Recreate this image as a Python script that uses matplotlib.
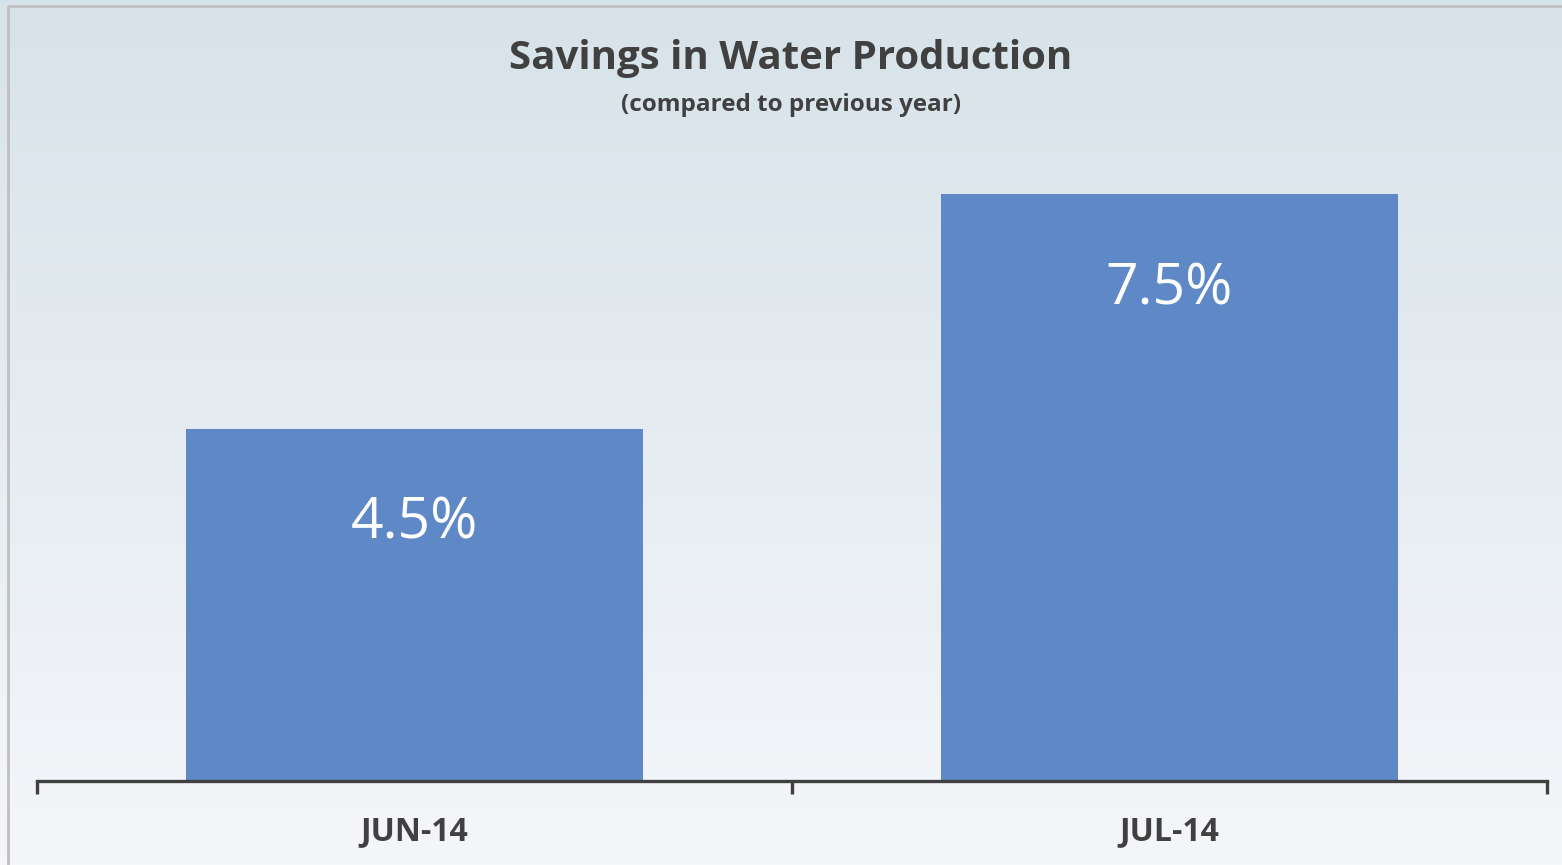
import numpy as np
import matplotlib
matplotlib.use("Agg")
import matplotlib.pyplot as plt
from matplotlib.patches import Rectangle

## data
months = ["JUN-14", "JUL-14"]
savings = [4.5, 7.5]
labels = ["4.5%", "7.5%"]

plt.rcParams['font.family'] = ['Open Sans', 'DejaVu Sans']

W, H = 1562, 865
fig = plt.figure(figsize=(W / 100, H / 100), dpi=100)

## background gradient
bg = fig.add_axes([0, 0, 1, 1], zorder=-2)
top = np.array([0.843, 0.890, 0.914])
bot = np.array([0.960, 0.965, 0.980])
t = np.linspace(0, 1, 256)[:, None]
grad = (top * (1 - t) + bot * t)[:, None, :]
bg.imshow(grad, aspect='auto', extent=[0, W, H, 0])
bg.add_patch(Rectangle((8, 6), W + 20, H + 20, fill=False, edgecolor='#bfbfbf', linewidth=2))
bg.set_xlim(0, W)
bg.set_ylim(H, 0)
bg.axis('off')

## plot area
px_per_unit = 78.3
ax_top, ax_bot = 150, 781
ax = fig.add_axes([37 / W, (H - ax_bot) / H, 1510 / W, (ax_bot - ax_top) / H])
ax.patch.set_alpha(0)

x = np.arange(len(months))
bars = ax.bar(x, savings, width=0.605, color='#5e89c6', edgecolor='none')
ax.set_xlim(-0.5, 1.5)
ax.set_ylim(0, (ax_bot - ax_top) / px_per_unit)

for b, lab in zip(bars, labels):
    ax.annotate(lab, (b.get_x() + b.get_width() / 2, b.get_height()),
                xytext=(0, -69), textcoords='offset points',
                ha='center', va='center', color='white', fontsize=41)

for s in ['top', 'right', 'left']:
    ax.spines[s].set_visible(False)
ax.spines['bottom'].set_color('#404040')
ax.spines['bottom'].set_linewidth(2.4)
ax.set_yticks([])
ax.set_xticks([-0.5, 0.5, 1.5], minor=False)
ax.set_xticklabels(['', '', ''])
ax.tick_params(axis='x', length=9, width=2.4, color='#404040')
for xi, m in zip(x, months):
    ax.text(xi, -0.65, m, ha='center', va='center', fontsize=23,
            fontweight='bold', color='#404040', transform=ax.transData)

fig.text(791 / W, 1 - 58 / H, "Savings in Water Production", ha='center', va='center',
         fontsize=29, fontweight='bold', color='#404040')
fig.text(791 / W, 1 - 105 / H, "(compared to previous year)", ha='center', va='center',
         fontsize=17.5, fontweight='bold', color='#404040')

fig.savefig("out.png", dpi=100)
